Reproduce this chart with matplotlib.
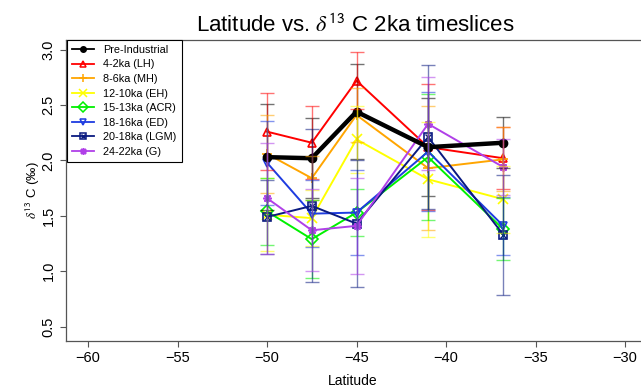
import numpy as np
import matplotlib
matplotlib.use("Agg")
import matplotlib.pyplot as plt
from matplotlib.lines import Line2D

plt.rcParams['font.family'] = ['Liberation Sans', 'DejaVu Sans']
plt.rcParams['mathtext.fontset'] = 'stix'

# data
lat = [-50, -47.5, -45, -41, -36.8]
labels = ['Pre-Industrial', '4-2ka (LH)', '8-6ka (MH)', '12-10ka (EH)',
          '15-13ka (ACR)', '18-16ka (ED)', '20-18ka (LGM)', '24-22ka (G)']
pi_val = [2.03, 2.02, 2.44, 2.12, 2.16]
pi_err = [0.48, 0.36, 0.43, 0.44, 0.23]
lh_val = [2.26, 2.16, 2.72, 2.12, 2.02]
lh_err = [0.35, 0.33, 0.26, 0.57, 0.28]
mh_val = [2.06, 1.84, 2.41, 1.93, 2.01]
mh_err = [0.35, 0.20, 0.24, 0.56, 0.29]
eh_val = [1.51, 1.48, 2.19, 1.83, 1.65]
eh_err = [0.33, 0.25, 0.30, 0.52, 0.30]
acr_val = [1.54, 1.29, 1.53, 2.03, 1.38]
acr_err = [0.30, 0.35, 0.21, 0.57, 0.28]
ed_val = [1.98, 1.52, 1.53, 2.08, 1.41]
ed_err = [0.38, 0.30, 0.38, 0.54, 0.26]
lgm_val = [1.49, 1.59, 1.43, 2.21, 1.33]
lgm_err = [0.33, 0.69, 0.57, 0.65, 0.54]
g_val = [1.66, 1.37, 1.41, 2.33, 1.94]
g_err = [0.50, 0.37, 0.43, 0.42, 0.25]

vals = [pi_val, lh_val, mh_val, eh_val, acr_val, ed_val, lgm_val, g_val]
errs = [pi_err, lh_err, mh_err, eh_err, acr_err, ed_err, lgm_err, g_err]
colors = ['black', '#FF0000', '#FFA500', '#FFFF00', '#00F000', '#1E3CE0', '#0A1A80', '#B040E8']
markers = ['o', '^', '+', 'x', 'D', 'v', 's', (8, 2, 0)]

fig = plt.figure(figsize=(6.41, 3.91), dpi=100)
ax = fig.add_axes([66/641, 50/391, 580/641, 301/391])

handles = []
for i in range(len(vals)):
    c = colors[i]
    ax.errorbar(lat, vals[i], yerr=errs[i], fmt='none', ecolor=c, alpha=0.55,
                elinewidth=1.0, capsize=5, capthick=1.0, zorder=3)
    if i == 0:
        ln, = ax.plot(lat, vals[i], color=c, lw=3.2, marker='o', ms=6,
                      zorder=2.5)
        h = Line2D([], [], color=c, lw=1.3, marker='o', ms=4)
    else:
        mfc = 'none'
        ms = 6 if markers[i] not in ('+', 'x') else 7
        ln, = ax.plot(lat, vals[i], color=c, lw=1.4, marker=markers[i], ms=ms,
                      mfc=mfc, mew=1.2, zorder=2)
        h = Line2D([], [], color=c, lw=1.3, marker=markers[i], ms=ms - 1,
                   mfc=mfc, mew=1.1)
        if i == 6:
            ax.plot(lat, vals[i], ls='none', marker='x', ms=4, color=c,
                    mew=1.0, zorder=2)
            hx = Line2D([], [], ls='none', marker='x', ms=3.5, color=c, mew=1.0)
            h = (h, hx)
    handles.append(h)

ax.set_xlim(-61.23, -61.23 + 580/17.9)
ax.set_ylim(0.371, 3.087)
ax.set_xticks(np.arange(-60, -29, 5))
ax.set_yticks([0.5, 1.0, 1.5, 2.0, 2.5, 3.0])
ax.set_yticklabels(['0.5', '1.0', '1.5', '2.0', '2.5', '3.0'], rotation=90, va='center')
ax.tick_params(direction='out', length=4.5, width=0.8, color='#555555',
               labelsize=10.5, pad=3)
for s in ['left', 'bottom', 'top']:
    ax.spines[s].set_color('#555555')
    ax.spines[s].set_linewidth(0.9)
ax.spines['right'].set_visible(False)

leg = ax.legend(handles, labels, loc='upper left', bbox_to_anchor=(0.002, 1.0),
                borderaxespad=0, fancybox=False, edgecolor='black', framealpha=1,
                fontsize=7.8, handlelength=2.0, labelspacing=0.42, borderpad=0.45,
                handletextpad=0.9)
leg.get_frame().set_linewidth(0.8)

fig.text(355/641, 1 - 32/391, r'Latitude vs. $\delta^{\mathsf{13}}$ C 2ka timeslices',
         ha='center', va='baseline', fontsize=16)
fig.text(353/641, 1 - 381/391, 'Latitude', ha='center', va='center', fontsize=10)
fig.text(33/641, 1 - 190/391, r'$\delta^{\mathsf{13}}$ C (‰)', rotation=90,
         ha='center', va='center', fontsize=9.5)

fig.savefig('out.png', dpi=100)
